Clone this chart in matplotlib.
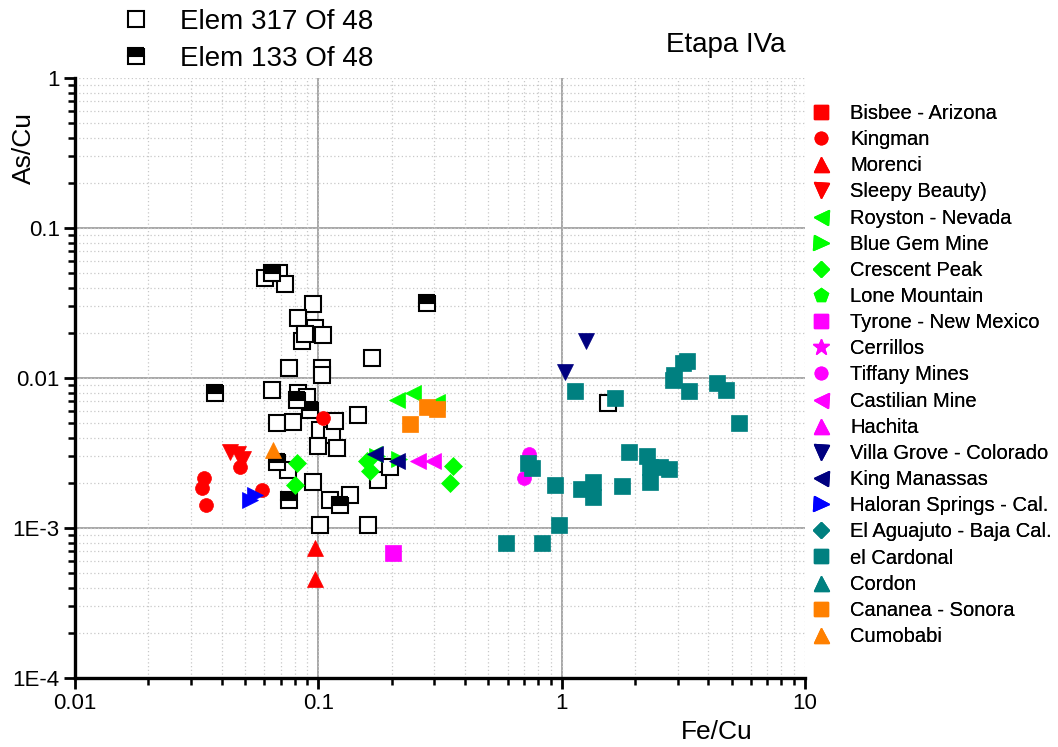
import matplotlib
matplotlib.use("Agg")
import matplotlib.pyplot as plt
from matplotlib.lines import Line2D
from matplotlib.ticker import FixedLocator, FixedFormatter, LogLocator, NullFormatter

plt.rcParams['font.family'] = ['Liberation Sans', 'DejaVu Sans']

# ---------------- data ----------------
elem317_x = [0.0604, 0.069, 0.073, 0.0951, 0.0826, 0.0969, 0.1045, 0.0857, 0.088,
             0.0758, 0.1035, 0.1035, 0.166, 0.0645, 0.0826, 0.0676, 0.0787, 0.1117,
             0.1016, 0.1138, 0.0997, 0.1193, 0.1456, 0.1172, 0.0951, 0.1117, 0.135,
             0.075, 0.1016, 0.160, 0.176, 0.197, 1.552, 0.090]
elem317_y = [0.0464, 0.050, 0.0423, 0.0311, 0.0251, 0.0215, 0.0193, 0.0177, 0.0195,
             0.0117, 0.0117, 0.0105, 0.0136, 0.0083, 0.0079, 0.0050, 0.0051, 0.0049,
             0.0045, 0.0042, 0.0035, 0.0034, 0.0057, 0.0052, 0.00204, 0.00154, 0.00166,
             0.00244, 0.00105, 0.00105, 0.0021, 0.00255, 0.0068, 0.0075]

elem133_x = [0.0645, 0.280, 0.0376, 0.0817, 0.0925, 0.0676, 0.0758, 0.1227]
elem133_y = [0.0501, 0.0318, 0.0079, 0.0071, 0.0061, 0.00275, 0.00154, 0.00142]

series = [
    # label, marker, color, x, y
    ("Bisbee - Arizona", "s", "#FF0000", [], []),
    ("Kingman", "o", "#FF0000",
     [0.0339, 0.0333, 0.0345, 0.0477, 0.0587, 0.1045],
     [0.00217, 0.00185, 0.00142, 0.00255, 0.0018, 0.0054]),
    ("Morenci", "^", "#FF0000", [0.0969, 0.0969], [0.00074, 0.00046]),
    ("Sleepy Beauty)", "v", "#FF0000", [0.0435, 0.0466, 0.049], [0.0032, 0.0031, 0.0029]),
    ("Royston - Nevada", "<", "#00FF00", [0.210, 0.245, 0.308, 0.17], [0.0071, 0.0079, 0.0069, 0.0031]),
    ("Blue Gem Mine", ">", "#00FF00", [0.175, 0.215], [0.0030, 0.0029]),
    ("Crescent Peak", "D", "#00FF00",
     [0.0817, 0.0802, 0.1585, 0.163, 0.358, 0.348],
     [0.0027, 0.00194, 0.0028, 0.0024, 0.0026, 0.0020]),
    ("Lone Mountain", "p", "#00FF00", [], []),
    ("Tyrone - New Mexico", "s", "#FF00FF", [0.203], [0.00068]),
    ("Cerrillos", "*", "#FF00FF", [], []),
    ("Tiffany Mines", "o", "#FF00FF", [0.735, 0.700], [0.0031, 0.00217]),
    ("Castilian Mine", "<", "#FF00FF", [0.257, 0.296], [0.0028, 0.0028]),
    ("Hachita", "^", "#FF00FF", [], []),
    ("Villa Grove - Colorado", "v", "#000080", [1.03, 1.26], [0.011, 0.0177]),
    ("King Manassas", "<", "#000080", [0.171, 0.210], [0.0031, 0.0028]),
    ("Haloran Springs - Cal.", ">", "#0000FF", [0.0524, 0.0549], [0.00154, 0.00166]),
    ("El Aguajuto - Baja Cal.", "D", "#008080", [], []),
    ("el Cardonal", "s", "#008080",
     [1.135, 1.66, 2.87, 2.90, 3.15, 3.27, 3.34, 4.35, 4.74, 5.36, 1.89, 2.24, 2.31,
      2.54, 2.76, 2.31, 1.77, 1.345, 1.20, 1.345, 0.94, 0.975, 0.591, 0.830, 0.728, 0.755],
     [0.0082, 0.0074, 0.0097, 0.0105, 0.0126, 0.0130, 0.0082, 0.0093, 0.0083, 0.0050,
      0.0032, 0.0030, 0.00255, 0.00255, 0.00247, 0.00204, 0.0019, 0.00204, 0.00182,
      0.0016, 0.00194, 0.00105, 0.0008, 0.0008, 0.0027, 0.0025]),
    ("Cordon", "^", "#008080", [], []),
    ("Cananea - Sonora", "s", "#FF8000", [0.280, 0.308, 0.238], [0.0064, 0.0062, 0.0049]),
    ("Cumobabi", "^", "#FF8000", [0.0651], [0.0033]),
]

marker_size = {"s": 11, "o": 10, "^": 12, "v": 12, "<": 12, ">": 12, "D": 9, "p": 11, "*": 13}

W, H = 1058, 747
fig = plt.figure(figsize=(W / 100, H / 100), dpi=100)
ax = fig.add_axes([75 / W, 1 - 678 / H, (805 - 75) / W, (678 - 78) / H])
ax.set_xscale('log')
ax.set_yscale('log')
ax.set_xlim(0.01, 10)
ax.set_ylim(1e-4, 1)

# grid
ax.grid(which='both', color='#C8C8C8', linestyle=(0, (1, 2)), linewidth=0.9)
for v in (0.1, 1):
    ax.axvline(v, color='#A0A0A0', lw=1.3, zorder=0.5)
for v in (0.1, 0.01, 0.001):
    ax.axhline(v, color='#A0A0A0', lw=1.3, zorder=0.5)
ax.set_axisbelow(True)

# data marks
ax.plot(elem317_x, elem317_y, ls='none', marker='s', ms=11.5, mfc='white',
        mec='black', mew=1.5, zorder=3)
ax.plot(elem133_x, elem133_y, ls='none', marker='s', ms=11.5, fillstyle='top',
        mfc='black', mfcalt='white', mec='black', mew=1.5, zorder=3)

handles = []
for lab, mk, col, xs, ys in series:
    ms = marker_size[mk]
    ax.plot(xs, ys, ls='none', marker=mk, ms=ms, color=col, mec=col, mew=0.5, zorder=4)
    handles.append(Line2D([], [], ls='none', marker=mk, ms=ms * 0.9, color=col, mec=col, label=lab))

# spines & ticks
for s in ('top', 'right'):
    ax.spines[s].set_visible(False)
for s in ('left', 'bottom'):
    ax.spines[s].set_linewidth(2.4)
ax.tick_params(which='major', direction='out', length=8, width=2, labelsize=16, pad=3)
ax.tick_params(which='minor', direction='out', length=5, width=1.8)

ax.xaxis.set_major_locator(FixedLocator([0.01, 0.1, 1, 10]))
ax.xaxis.set_major_formatter(FixedFormatter(["0.01", "0.1", "1", "10"]))
ax.yaxis.set_major_locator(FixedLocator([1e-4, 1e-3, 1e-2, 1e-1, 1]))
ax.yaxis.set_major_formatter(FixedFormatter(["1E-4", "1E-3", "0.01", "0.1", "1"]))
ax.xaxis.set_minor_locator(LogLocator(base=10, subs=range(2, 10)))
ax.yaxis.set_minor_locator(LogLocator(base=10, subs=range(2, 10)))
ax.xaxis.set_minor_formatter(NullFormatter())
ax.yaxis.set_minor_formatter(NullFormatter())

# labels
fig.text(717 / W, 1 - 732 / H, "Fe/Cu", fontsize=19, ha='center', va='center')
fig.text(24 / W, 1 - 148 / H, "As/Cu", fontsize=19, ha='center', va='center', rotation=90)
fig.text(726 / W, 1 - 45 / H, "Etapa IVa", fontsize=20, ha='center', va='center')

# right legend
leg = ax.legend(handles=handles, loc='upper left', bbox_to_anchor=(811 / W, 1 - 104 / H),
                bbox_transform=fig.transFigure, frameon=False, fontsize=14.5,
                labelspacing=0.355, handlelength=1.0, handletextpad=0.95, borderpad=0,
                borderaxespad=0, numpoints=1)
ax.add_artist(leg)

# top legend
top_handles = [
    Line2D([], [], ls='none', marker='s', ms=11.5, mfc='white', mec='black', mew=1.5,
           label="Elem 317 Of 48"),
    Line2D([], [], ls='none', marker='s', ms=11.5, fillstyle='top', mfc='black',
           mfcalt='white', mec='black', mew=1.5, label="Elem 133 Of 48"),
]
fig.legend(handles=top_handles, loc='upper left', bbox_to_anchor=(122 / W, 1 - 9 / H),
           frameon=False, fontsize=20, labelspacing=0.4, handlelength=1.0,
           handletextpad=1.1, borderpad=0, borderaxespad=0, numpoints=1)

fig.savefig("out.png", dpi=100)
